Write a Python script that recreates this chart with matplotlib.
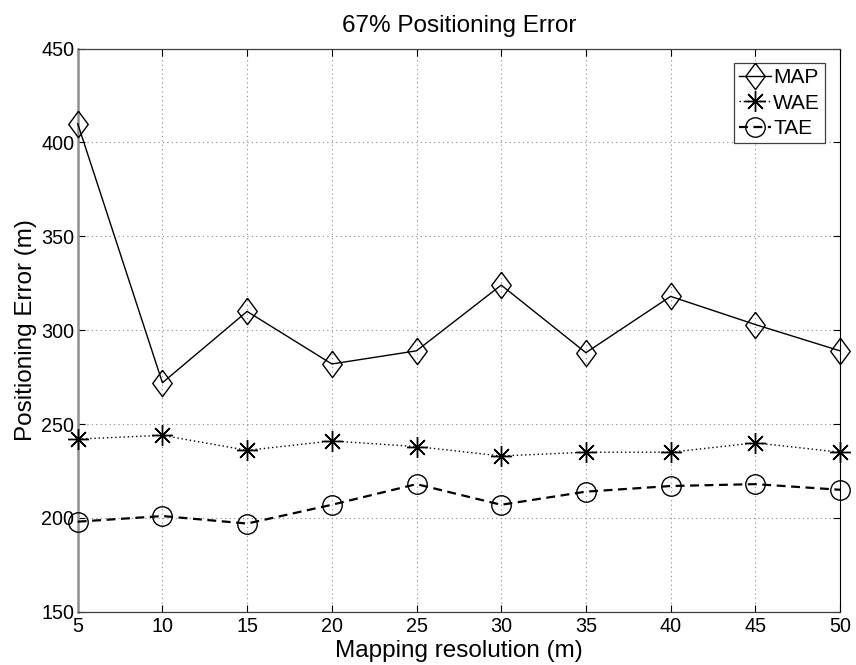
import numpy as np
import matplotlib
matplotlib.use("Agg")
from matplotlib import pyplot as plt
from matplotlib import rcParams

rcParams['font.family'] = ['Liberation Sans', 'DejaVu Sans']

# Mapping resolution (m)
resolution = [5, 10, 15, 20, 25, 30, 35, 40, 45, 50]

# 67% positioning error (m) for each method
map_err = [410, 272, 310, 282, 289, 324, 288, 318, 303, 289]
wae_err = [242, 244, 236, 241, 238, 233, 235, 235, 240, 235]
tae_err = [198, 201, 197, 207, 218, 207, 214, 217, 218, 215]

# diamond a little taller than wide
diamond = [(0, 1), (0.74, 0), (0, -1), (-0.74, 0), (0, 1)]

fig = plt.figure(figsize=(8.56, 6.65), dpi=100)
ax = fig.add_axes([0.0908, 0.080, 0.8905, 0.847])

ax.plot(resolution, map_err, color='black', linestyle='-', linewidth=1.0,
        marker=diamond, markersize=19, markerfacecolor='none',
        markeredgecolor='black', markeredgewidth=1.0, label='MAP',
        clip_on=False, zorder=3)
ax.plot(resolution, wae_err, color='black', linestyle=(0, (1, 2)), linewidth=1.0,
        marker=(8, 2, 0), markersize=15, markeredgecolor='black',
        markeredgewidth=1.0, label='WAE', clip_on=False, zorder=3)
ax.plot(resolution, tae_err, color='black', linestyle=(0, (4, 2.5)), linewidth=1.6,
        marker='o', markersize=14, markerfacecolor='none',
        markeredgecolor='black', markeredgewidth=1.0, label='TAE',
        clip_on=False, zorder=3)

ax.set_xlim(5, 50)
ax.set_ylim(150, 450)
ax.set_xticks(np.arange(5, 51, 5))
ax.set_yticks(np.arange(150, 451, 50))

ax.grid(True, color='#8a8a8a', linestyle=(0, (1, 3)), linewidth=0.8)
ax.tick_params(direction='in', top=True, right=True, length=5, width=0.8,
               labelsize=14.2)
ax.tick_params(axis='x', pad=3.5)
ax.tick_params(axis='y', pad=2.5)

for side in ['top', 'bottom']:
    ax.spines[side].set_color('#404040')
    ax.spines[side].set_linewidth(0.9)
ax.spines['right'].set_color('black')
ax.spines['left'].set_color('#909090')
ax.spines['left'].set_linewidth(1.8)

ax.set_title("67% Positioning Error", fontsize=17.5, pad=12)
ax.set_xlabel("Mapping resolution (m)", fontsize=17.5, labelpad=3)
ax.set_ylabel("Positioning Error (m)", fontsize=17.5, labelpad=3)

leg = ax.legend(loc='upper right', fontsize=15, handlelength=1.55,
                handletextpad=0.1, borderpad=0.25, labelspacing=0.3,
                borderaxespad=0.7, fancybox=False, framealpha=1)
leg.get_frame().set_edgecolor('#404040')
leg.get_frame().set_linewidth(0.9)

fig.savefig("out.png", dpi=100)
